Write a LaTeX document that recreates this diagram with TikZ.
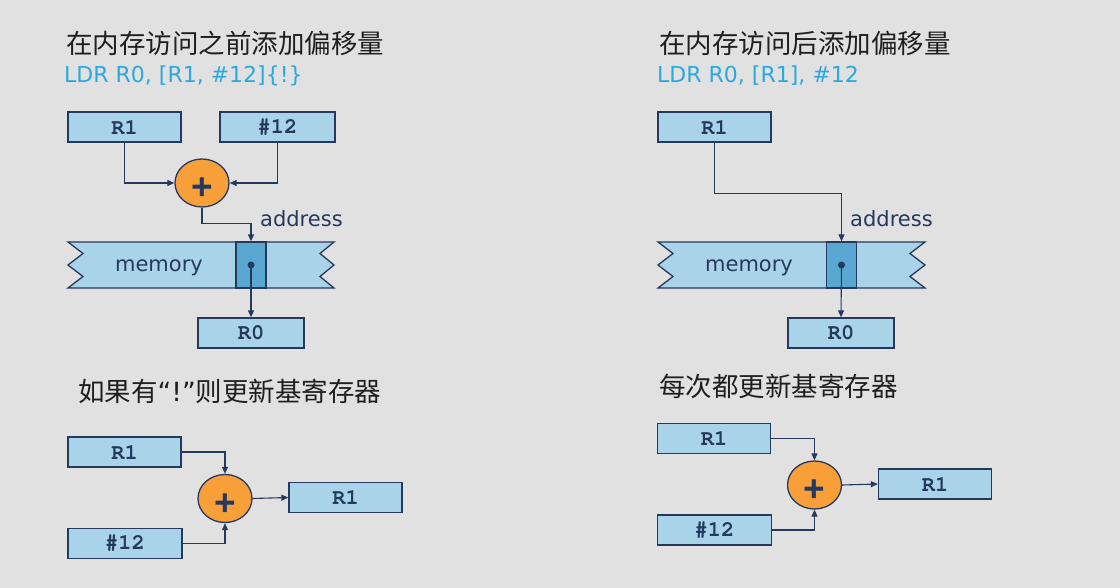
\documentclass[tikz,border=0pt]{standalone}
\usepackage{fontspec}
\setmainfont{DejaVu Sans}
\setmonofont{TeX Gyre Cursor}
\newfontfamily\cjk{Noto Sans CJK SC}
\newfontfamily\plusfont{Liberation Sans}
\usetikzlibrary{arrows.meta,shapes.geometric}
\definecolor{bg}{HTML}{E1E1E1}
\definecolor{navy}{HTML}{25395F}
\definecolor{boxblue}{HTML}{A9D3E8}
\definecolor{cellblue}{HTML}{5AA8D2}
\definecolor{sumorange}{HTML}{F7A03A}
\definecolor{ldrblue}{HTML}{2AA9E0}
\tikzset{
  reg/.style={draw=navy, fill=boxblue, line width=1.3pt, minimum height=30, inner sep=0,
    font=\fontsize{22}{22}\selectfont\ttfamily\bfseries, text=navy},
  sum/.style={ellipse, draw=navy, fill=sumorange, line width=1.3pt,
    minimum width=54, minimum height=48, inner sep=0},
  plus/.style={inner sep=0, font=\fontsize{37}{37}\selectfont\plusfont\bfseries, text=navy},
  link/.style={draw=navy, line width=1.1pt, -{Triangle[length=7pt,width=6pt]}},
  title/.style={anchor=base west, inner sep=0, font=\fontsize{26.5}{26.5}\selectfont\cjk, text=black!88},
  ldr/.style={anchor=base west, inner sep=0, font=\fontsize{22}{22}\selectfont, text=ldrblue},
  lbl/.style={inner sep=0, font=\fontsize{21}{21}\selectfont, text=navy},
  mem/.style={draw=navy, fill=boxblue, line width=1.3pt},
  cell/.style={draw=navy, fill=cellblue, line width=1.3pt, minimum width=30, minimum height=46, inner sep=0},
}
\begin{document}
\begin{tikzpicture}[x=1pt,y=-1pt]
  \useasboundingbox (0,0) rectangle (1120,588);
  \fill[bg] (0,0) rectangle (1120,588);
  %
  % pre-indexed
  \node[title] (tL) at (66,53.5) {在内存访问之前添加偏移量};
  \node[ldr] (ldrL) at (64,83) {LDR R0, [R1, \#12]\{!\}};
  \node[reg, minimum width=113] (r1L) at (124.5,127) {R1};
  \node[reg, minimum width=115] (immL) at (277.5,127) {\#12};
  \node[sum] (sumL) at (202,183) {};
  \node[plus] (plusL) at (202,189) {+};
  \draw[link] (r1L.south) |- (sumL.west);
  \draw[link] (immL.south) |- (sumL.east);
  % memory
  \draw[mem] (68,242) -- (334,242) -- (320,253.5) -- (334,265) -- (320,276.5) -- (334,288)
             -- (68,288) -- (83,276.5) -- (68,265) -- (83,253.5) -- cycle;
  \node[cell] (cellL) at (251,265) {};
  \node[lbl, anchor=base] (memL) at (159,272) {memory};
  \fill[navy] (cellL.center) circle (3.5);
  \draw[link] (sumL.south) -- ++(0,16) -| (cellL.north);
  \node[lbl, anchor=base west] (addrL) at (260,227) {address};
  \node[reg, minimum width=106] (r0L) at (251,333) {R0};
  \draw[link] (cellL.center) -- (r0L.north);
  %
  % post-indexed
  \begin{scope}[shift={(590,0)}]
    \node[title] (tR) at (69,53.5) {在内存访问后添加偏移量};
    \node[ldr] (ldrR) at (67,83) {LDR R0, [R1], \#12};
    \node[reg, minimum width=113] (r1R) at (124.5,127) {R1};
    \draw[mem] (68,242) -- (335,242) -- (320,253.5) -- (335,265) -- (320,276.5) -- (335,288)
               -- (68,288) -- (83,276.5) -- (68,265) -- (83,253.5) -- cycle;
    \node[cell] (cellR) at (251.5,265) {};
    \node[lbl, anchor=base] (memR) at (159,272) {memory};
    \fill[navy] (cellR.center) circle (3.5);
    \draw[link] (r1R.south) -- ++(0,51) -| (cellR.north);
    \node[lbl, anchor=base west] (addrR) at (260,227) {address};
    \node[reg, minimum width=106] (r0R) at (251,333) {R0};
    \draw[link] (cellR.center) -- (r0R.north);
  \end{scope}
  %
  % base register update
  \node[title] (tB) at (78,401.5) {如果有{\rmfamily “!”}则更新基寄存器};
  \node[reg, minimum width=113] (r1B) at (124.5,452) {R1};
  \node[reg, minimum width=114] (immB) at (125,543.5) {\#12};
  \node[sum] (sumB) at (225,498.5) {};
  \node[plus] (plusB) at (225,504.5) {+};
  \node[reg, minimum width=113] (outB) at (345.5,497.5) {R1};
  \draw[link] (r1B.east) -| (sumB.north);
  \draw[link] (immB.east) -| (sumB.south);
  \draw[link] (sumB.east) -- (outB.west);
  %
  \begin{scope}[shift={(589.5,-13.5)}]
    \node[title] (tA) at (69.5,409.5) {每次都更新基寄存器};
    \node[reg, minimum width=113] (r1A) at (124.5,452) {R1};
    \node[reg, minimum width=114] (immA) at (125,543.5) {\#12};
    \node[sum] (sumA) at (225,498.5) {};
    \node[plus] (plusA) at (225,504.5) {+};
    \node[reg, minimum width=113] (outA) at (345.5,497.5) {R1};
    \draw[link] (r1A.east) -| (sumA.north);
    \draw[link] (immA.east) -| (sumA.south);
    \draw[link] (sumA.east) -- (outA.west);
  \end{scope}
\end{tikzpicture}
\end{document}
